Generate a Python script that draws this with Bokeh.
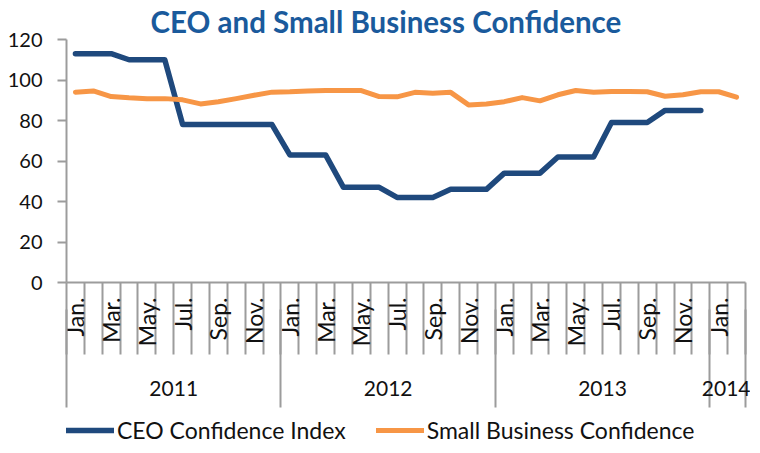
import math
import numpy as np
from bokeh.plotting import figure
from bokeh.layouts import column
from bokeh.models import (LinearAxis, FixedTicker, Range1d, Legend, LegendItem, ColumnDataSource)
from bokeh.embed import file_html
from bokeh.resources import INLINE

# ---- data ----
years = ["2011"] * 12 + ["2012"] * 12 + ["2013"] * 12 + ["2014"] * 2
months = ["Jan.", "Feb.", "Mar.", "Apr.", "May.", "Jun.", "Jul.", "Aug.", "Sep.", "Oct.", "Nov.", "Dec."] * 3 + ["Jan.", "Feb."]
ceo = [113, 113, 113, 110, 110, 110, 78, 78, 78, 78, 78, 78,
       63, 63, 63, 47, 47, 47, 42, 42, 42, 46, 46, 46,
       54, 54, 54, 62, 62, 62, 79, 79, 79, 85, 85, 85,
       float("nan"), float("nan")]
small_biz = [94.0, 94.6, 91.8, 91.2, 90.8, 90.8, 90.2, 88.2, 89.3, 90.8, 92.5, 94.0,
             94.2, 94.6, 94.8, 94.8, 94.8, 91.8, 91.7, 93.9, 93.5, 93.9, 87.7, 88.2,
             89.3, 91.3, 89.7, 92.7, 94.8, 93.9, 94.3, 94.3, 94.2, 92.0, 92.7, 94.2,
             94.2, 91.5]
y_ticks = [0, 20, 40, 60, 80, 100, 120]
year_labels = ["2011", "2012", "2013", "2014"]
series_names = ["CEO Confidence Index", "Small Business Confidence"]

idx = list(range(len(months)))
src = ColumnDataSource(dict(x=idx, ceo=ceo, sb=small_biz))

GRAY = "#9c9c9c"
FONT = "Lato"
BLUE = "#1f497d"
ORANGE = "#f79646"

p = figure(frame_width=679, frame_height=243, output_backend="svg", toolbar_location=None,
           x_range=Range1d(-0.5, len(idx) - 0.5), y_range=Range1d(0, 120),
           x_axis_location=None, min_border_left=66, min_border_right=5,
           min_border_top=32, min_border_bottom=135)
p.grid.visible = False
p.outline_line_color = None
p.background_fill_color = "white"
p.border_fill_color = "white"

# title
p.title.text = "CEO and Small Business Confidence"
p.title.text_font = FONT
p.title.text_font_size = "29.5px"
p.title.text_font_style = "bold"
p.title.text_color = "#1a5a9c"
p.title.align = "left"
p.title.offset = 84
p.title.standoff = 2

# y axis
ya = p.yaxis[0]
ya.ticker = FixedTicker(ticks=y_ticks, minor_ticks=[])
ya.major_tick_out = 9
ya.major_tick_in = 0
ya.minor_tick_out = 0
ya.minor_tick_in = 0
ya.axis_line_color = GRAY
ya.axis_line_width = 2
ya.major_tick_line_color = GRAY
ya.major_tick_line_width = 2
ya.major_label_standoff = 15
ya.major_label_text_font = FONT
ya.major_label_text_font_size = "20px"
ya.major_label_text_color = "#111111"

# month axis
label_idx = [i for i in idx if i % 2 == 0]
bounds = [i - 0.5 for i in idx] + [idx[-1] + 0.5]
xa = LinearAxis(ticker=FixedTicker(ticks=label_idx, minor_ticks=bounds),
                major_label_overrides={i: months[i] for i in label_idx},
                major_label_orientation=math.pi / 2,
                major_tick_out=0, major_tick_in=0,
                minor_tick_out=0, minor_tick_in=-72,
                minor_tick_line_color=GRAY, minor_tick_line_width=2,
                axis_line_color=GRAY, axis_line_width=2,
                major_label_standoff=15,
                major_label_text_font=FONT, major_label_text_font_size="23px",
                major_label_text_color="#111111")
p.add_layout(xa, "below")

# year axis
yr_centers = []
yr_bounds = [-0.5]
for y in year_labels:
    ii = [i for i in idx if years[i] == y]
    yr_centers.append(float(np.mean(ii)))
    yr_bounds.append(ii[-1] + 0.5)
ya2 = LinearAxis(ticker=FixedTicker(ticks=yr_centers, minor_ticks=yr_bounds),
                 major_label_overrides={c: l for c, l in zip(yr_centers, year_labels)},
                 major_tick_out=0, major_tick_in=0,
                 minor_tick_in=40, minor_tick_out=58,
                 minor_tick_line_color=GRAY, minor_tick_line_width=2,
                 axis_line_color=None,
                 major_label_standoff=-27,
                 major_label_text_font=FONT, major_label_text_font_size="21px",
                 major_label_text_color="#111111")
p.add_layout(ya2, "below")

p.line("x", "ceo", source=src, line_color=BLUE, line_width=5.5,
       line_cap="round", line_join="round")
p.line("x", "sb", source=src, line_color=ORANGE, line_width=5,
       line_cap="round", line_join="round")

# legend strip below the chart (series drawn off-range, only their legend shows)
lf = figure(width=750, height=27, output_backend="svg", toolbar_location=None,
            x_range=Range1d(0, 1), y_range=Range1d(0, 1),
            x_axis_location=None, y_axis_location=None,
            min_border_left=0, min_border_right=0, min_border_top=0, min_border_bottom=0)
lf.grid.visible = False
lf.outline_line_color = None
lf.background_fill_color = "white"
lf.border_fill_color = "white"
l1 = lf.line("x", "ceo", source=src, line_color=BLUE, line_width=5.5, line_cap="round")
l2 = lf.line("x", "sb", source=src, line_color=ORANGE, line_width=5, line_cap="round")

leg = Legend(items=[LegendItem(label=series_names[0], renderers=[l1]),
                    LegendItem(label=series_names[1], renderers=[l2])],
             orientation="horizontal", location=(0, 0),
             glyph_width=48, glyph_height=20, label_standoff=3, spacing=30,
             label_text_font=FONT, label_text_font_size="23px",
             label_text_color="#111111", border_line_color=None,
             background_fill_alpha=0, padding=0, margin=0)
lf.add_layout(leg)

layout = column(p, lf, spacing=0)
open("out.html", "w").write(file_html(layout, INLINE))
